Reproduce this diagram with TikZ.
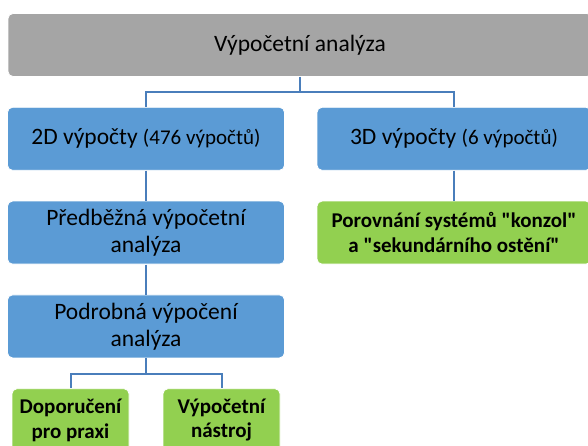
\documentclass[tikz,border=0pt]{standalone}
\usepackage{fontspec}
\setmainfont{Carlito}
\usetikzlibrary{positioning}

\definecolor{boxgrey}{HTML}{A5A5A5}
\definecolor{boxblue}{HTML}{5B9BD5}
\definecolor{boxgreen}{HTML}{92D050}
\definecolor{linkblue}{HTML}{4A7EBB}

\tikzset{
    box/.style={draw=white, line width=0.8pt, rounded corners=5pt, align=center, inner sep=0pt,
        minimum height=63pt, font=\fontsize{23.5}{27}\selectfont},
    greybox/.style={box, fill=boxgrey, minimum width=584pt},
    bluebox/.style={box, fill=boxblue, minimum width=277pt},
    greenbox/.style={box, fill=boxgreen, font=\bfseries\fontsize{21}{24.5}\selectfont},
    link/.style={draw=linkblue, line width=2pt},
}

\begin{document}
\begin{tikzpicture}[x=1pt, y=-1pt, node distance=30pt]
    \useasboundingbox (0,0) rectangle (588,446);
    \node [greybox] (vyp) at (300,45) {Výpočetní analýza};
    \node [bluebox, below=of vyp, xshift=-154pt] (d2) {2D výpočty {\fontsize{21}{25}\selectfont (476 výpočtů)}};
    \node [bluebox, below=of vyp, xshift=154pt, minimum width=274pt] (d3) {3D výpočty {\fontsize{21}{25}\selectfont (6 výpočtů)}};
    \node [bluebox, below=of d2] (pred) {Předběžná výpočetní\\analýza};
    \node [bluebox, below=of pred] (podr) {Podrobná výpočení\\analýza};
    \node [greenbox, below=of d3, minimum width=274pt] (por) {Porovnání systémů \textquotedbl konzol\textquotedbl\\a \textquotedbl sekundárního ostění\textquotedbl};
    \node [greenbox, below=of podr, xshift=-75.5pt, minimum width=117pt] (dop) {Doporučení\\pro praxi};
    \node [greenbox, below=of podr, xshift=75.5pt, minimum width=117pt] (nas) {Výpočetní\\nástroj};
    \draw [link] (vyp.south) -- ++(0,15) -| (d2.north);
    \draw [link] (vyp.south) -- ++(0,15) -| (d3.north);
    \draw [link] (d2) -- (pred);
    \draw [link] (pred) -- (podr);
    \draw [link] (d3) -- (por);
    \draw [link] (podr.south) -- ++(0,16) -| (dop.north);
    \draw [link] (podr.south) -- ++(0,16) -| (nas.north);
\end{tikzpicture}
\end{document}
